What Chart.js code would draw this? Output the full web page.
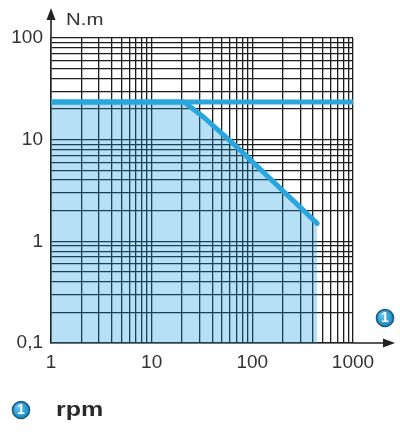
<!DOCTYPE html>
<html>
<head>
<meta charset="utf-8">
<script src="https://cdn.jsdelivr.net/npm/chart.js@4.4.0/dist/chart.umd.min.js"></script>
<style>
html,body{margin:0;padding:0;background:#fff;}
#c{display:block;}
</style>
</head>
<body>
<canvas id="c" width="400" height="434"></canvas>
<script>
// ---- data ----
const xDecades = [1, 10, 100, 1000];
const yDecades = [0.1, 1, 10, 100];
const xTickLabels = ['1', '10', '100', '1000'];
const yTickLabels = ['0,1', '1', '10', '100'];
const curveSpeed = [1, 21, 32, 70, 440];
const curveTorque = [23.5, 23.5, 17, 8.5, 1.5];
const ratedSpeed = [1, 1000];
const ratedTorque = [23.5, 23.5];
const yAxisTitle = 'N.m';
const xAxisTitle = 'rpm';
const badgeText = '1';

function gridValues(decs) {
  const out = [];
  for (let i = 0; i < decs.length - 1; i++) {
    for (let m = 1; m <= 9; m++) out.push(+(decs[i] * m).toPrecision(6));
  }
  out.push(decs[decs.length - 1]);
  return out;
}
function labelFor(value, decs, labels) {
  for (let i = 0; i < decs.length; i++) {
    if (Math.abs(Math.log10(value) - Math.log10(decs[i])) < 1e-6) return labels[i];
  }
  return '';
}

const FAMILY = 'Arial, "Liberation Sans", Helvetica, sans-serif';
const LINE = '#2aa6de';
const GRID = '#1c1c1c';
const TXT = '#333333';

function drawBadge(ctx, x, y) {
  ctx.save();
  const g = ctx.createRadialGradient(x - 3, y - 3, 1, x, y, 10);
  g.addColorStop(0, '#5fc3ef');
  g.addColorStop(1, '#0f7fbb');
  ctx.beginPath();
  ctx.arc(x, y, 8.5, 0, Math.PI * 2);
  ctx.fillStyle = g;
  ctx.fill();
  ctx.lineWidth = 1.6;
  ctx.strokeStyle = '#1a5a80';
  ctx.stroke();
  ctx.fillStyle = '#ffffff';
  ctx.font = 'bold 14px ' + FAMILY;
  ctx.textAlign = 'center';
  ctx.textBaseline = 'middle';
  ctx.fillText(badgeText, x, y + 0.5);
  ctx.restore();
}

const deco = {
  id: 'deco',
  afterDraw(chart) {
    const ctx = chart.ctx;
    const a = chart.chartArea;
    ctx.save();
    ctx.strokeStyle = '#222';
    ctx.fillStyle = '#222';
    ctx.lineWidth = 1.6;
    // y axis arrow
    ctx.beginPath();
    ctx.moveTo(a.left, a.top);
    ctx.lineTo(a.left, 16);
    ctx.stroke();
    ctx.beginPath();
    ctx.moveTo(a.left, 8);
    ctx.lineTo(a.left - 4.5, 20);
    ctx.lineTo(a.left + 4.5, 20);
    ctx.closePath();
    ctx.fill();
    // x axis arrow
    ctx.beginPath();
    ctx.moveTo(a.right, a.bottom);
    ctx.lineTo(386, a.bottom);
    ctx.stroke();
    ctx.beginPath();
    ctx.moveTo(395, a.bottom);
    ctx.lineTo(383, a.bottom - 4.5);
    ctx.lineTo(383, a.bottom + 4.5);
    ctx.closePath();
    ctx.fill();
    // N.m title
    ctx.fillStyle = TXT;
    ctx.textAlign = 'left';
    ctx.textBaseline = 'alphabetic';
    ctx.save();
    ctx.translate(66, 25);
    ctx.scale(1.2, 1);
    ctx.font = '17px ' + FAMILY;
    ctx.fillText(yAxisTitle, 0, 0);
    ctx.restore();
    // rpm legend
    ctx.save();
    ctx.translate(56, 416);
    ctx.scale(1.25, 1);
    ctx.font = 'bold 20px ' + FAMILY;
    ctx.fillStyle = '#2a2a2a';
    ctx.fillText(xAxisTitle, 0, 0);
    ctx.restore();
    ctx.restore();
    drawBadge(ctx, 385, 318);
    drawBadge(ctx, 21, 410);
  }
};

const tickFont = { family: FAMILY, size: 19 };

new Chart(document.getElementById('c'), {
  type: 'line',
  data: {
    datasets: [
      {
        data: curveSpeed.map((s, i) => ({ x: s, y: curveTorque[i] })),
        borderColor: LINE,
        borderWidth: 5,
        borderCapStyle: 'round',
        borderJoinStyle: 'round',
        backgroundColor: 'rgba(15,152,225,0.30)',
        fill: 'start',
        pointRadius: 0,
        tension: 0,
        order: 2
      },
      {
        data: ratedSpeed.map((s, i) => ({ x: s, y: ratedTorque[i] })),
        borderColor: LINE,
        borderWidth: 5,
        fill: false,
        pointRadius: 0,
        tension: 0,
        order: 1
      }
    ]
  },
  options: {
    responsive: false,
    animation: false,
    devicePixelRatio: 1,
    layout: { padding: { left: 0, top: 38, right: 47, bottom: 61 } },
    plugins: { legend: { display: false }, tooltip: { enabled: false } },
    scales: {
      x: {
        type: 'logarithmic',
        position: 'bottom',
        min: xDecades[0],
        max: xDecades[xDecades.length - 1],
        afterBuildTicks(scale) { scale.ticks = gridValues(xDecades).map(v => ({ value: v })); },
        afterFit(scale) { scale.height = 30; },
        grid: { color: GRID, lineWidth: 1.3, drawTicks: false },
        border: { display: true, color: '#222', width: 1.6 },
        ticks: {
          autoSkip: false,
          maxRotation: 0,
          padding: 8,
          color: TXT,
          font: tickFont,
          callback: (v) => labelFor(v, xDecades, xTickLabels)
        }
      },
      y: {
        type: 'logarithmic',
        min: yDecades[0],
        max: yDecades[yDecades.length - 1],
        afterBuildTicks(scale) { scale.ticks = gridValues(yDecades).map(v => ({ value: v })); },
        afterFit(scale) { scale.width = 51; },
        grid: { color: GRID, lineWidth: 1.3, drawTicks: false },
        border: { display: true, color: '#222', width: 1.6 },
        ticks: {
          autoSkip: false,
          padding: 8,
          color: TXT,
          font: tickFont,
          callback: (v) => labelFor(v, yDecades, yTickLabels)
        }
      }
    }
  },
  plugins: [deco]
});
</script>
</body>
</html>
